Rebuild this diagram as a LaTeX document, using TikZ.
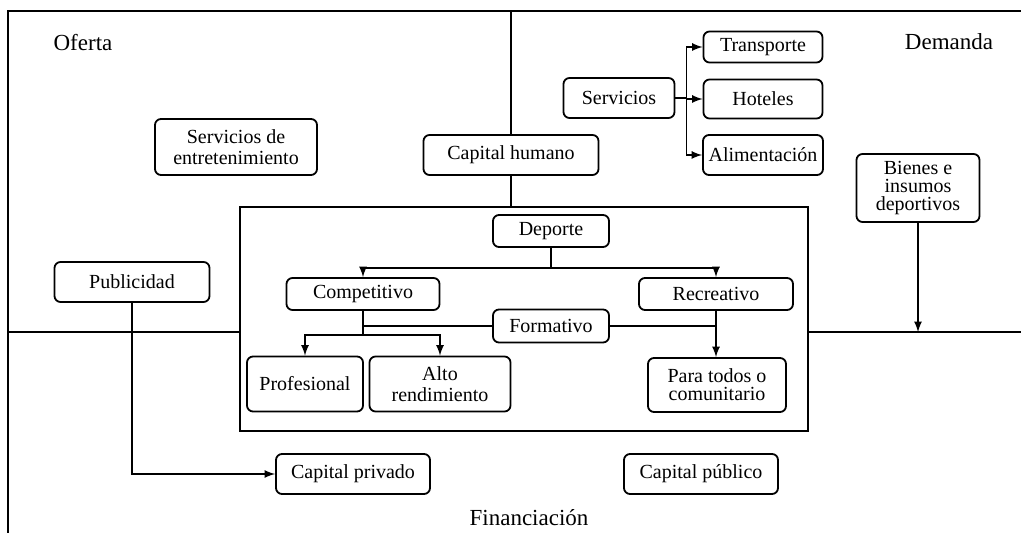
\documentclass[tikz,border=0pt]{standalone}
\usepackage{fontspec}
\setmainfont{Liberation Serif}
\usetikzlibrary{arrows,positioning}

\begin{document}
\begin{tikzpicture}[
			x=0.5pt, y=-0.5pt,
			caja/.style  = {draw, rounded corners=3pt, line width=0.9pt, fill=white, align=center, inner sep=1pt, font=\fontsize{10}{10.5}\selectfont},
			apretada/.style = {caja, font=\fontsize{10}{9}\selectfont},
			zona/.style = {font=\fontsize{11.5}{12}\selectfont},
			linea/.style = {line width=0.8pt},
			>=latex]
			\useasboundingbox (0,0) rectangle (1021,533);
			
			% frame and dividing lines
			\coordinate (abajo) at (8,533);
			\coordinate (esquina) at (8,11);
			\coordinate (derecha) at (1021,11);
			\coordinate (arriba) at (511,11);
			\coordinate (izq) at (8,332);
			\coordinate (der) at (1021,332);
			\draw[linea] (abajo) -- (esquina) -- (derecha);
			
			% region labels
			\node[zona] (oferta) at (83,43) {Oferta};
			\node[zona] (demanda) at (949,42) {Demanda};
			\node[zona] (financ) at (529,518) {Financiación};
			
			% inner box with the sport types
			\node[draw, linea, minimum width=284pt, minimum height=112pt, inner sep=0pt] (marco) at (524,319) {};
			\draw[linea] (izq) -- (izq -| marco.west);
			\draw[linea] (marco.east |- der) -- (der);
			\draw[linea] (arriba) -- (arriba |- marco.north);
			
			% boxes of the upper part
			\node[caja, minimum width=81pt, minimum height=28pt] (entret) at (236,147) {Servicios de\\entretenimiento};
			\node[caja, minimum width=87.5pt, minimum height=20pt] (humano) at (511,155) {Capital humano};
			\node[caja, minimum width=55.5pt, minimum height=20pt] (servicios) at (619,98) {Servicios};
			\node[caja, minimum width=59.5pt, minimum height=15.5pt] (transp) at (763,47) {Transporte};
			\node[caja, minimum width=59.5pt, minimum height=19.5pt] (hoteles) at (763,99) {Hoteles};
			\node[caja, minimum width=60pt, minimum height=20pt] (aliment) at (763,155) {Alimentación};
			\node[apretada, minimum width=61.5pt, minimum height=34pt] (bienes) at (918,188) {Bienes e\\insumos\\deportivos};
			\node[caja, minimum width=77.5pt, minimum height=20pt] (public) at (132,282) {Publicidad};
			
			% sport types, inside the box
			\node[caja, minimum width=58pt, minimum height=16pt] (deporte) at (551,231) {Deporte};
			\node[caja, minimum width=76.5pt, minimum height=16pt] (compet) at (363,294) {Competitivo};
			\node[caja, minimum width=77pt, minimum height=16pt] (recre) at (716,294) {Recreativo};
			\node[caja, minimum width=58pt, minimum height=16.5pt] (format) at (551,326) {Formativo};
			\node[caja, minimum width=58pt, minimum height=27.5pt] (profes) at (305,384) {Profesional};
			\node[caja, minimum width=70.5pt, minimum height=27.5pt] (alto) at (440,384) {Alto\\rendimiento};
			\node[apretada, minimum width=69pt, minimum height=27pt] (paratodos) at (717,385) {Para todos o\\comunitario};
			
			% financing
			\node[caja, minimum width=77pt, minimum height=20pt] (cprivado) at (353,474) {Capital privado};
			\node[caja, minimum width=77pt, minimum height=20pt] (cpublico) at (701,474) {Capital público};
			
			% lines from Servicios to its three kinds
			\draw[linea] (servicios.east) -- ++(11,0) coordinate (rama);
			\foreach \value in {transp, hoteles, aliment}
			\draw[linea, ->] (rama) |- (\value.west);
			
			\draw[linea, ->] (bienes) -- (bienes |- der);
			\draw[linea, ->] (public.south) |- (cprivado.west);
			
			% the sport tree
			\draw[linea] (deporte.south) -- ++(0,20) coordinate (dep);
			\foreach \value in {compet, recre}
			\draw[linea, ->] (dep) -| (\value.north);
			
			\draw[linea] (format.west) -- (format.west -| compet.south);
			\draw[linea] (format.east) -- (format.east -| recre.south);
			
			\draw[linea] (compet.south) -- ++(0,24) coordinate (com);
			\foreach \value in {profes, alto}
			\draw[linea, ->] (com) -| (\value.north);
			
			\draw[linea, ->] (recre.south) -- (recre.south |- paratodos.north);
		\end{tikzpicture}
\end{document}
